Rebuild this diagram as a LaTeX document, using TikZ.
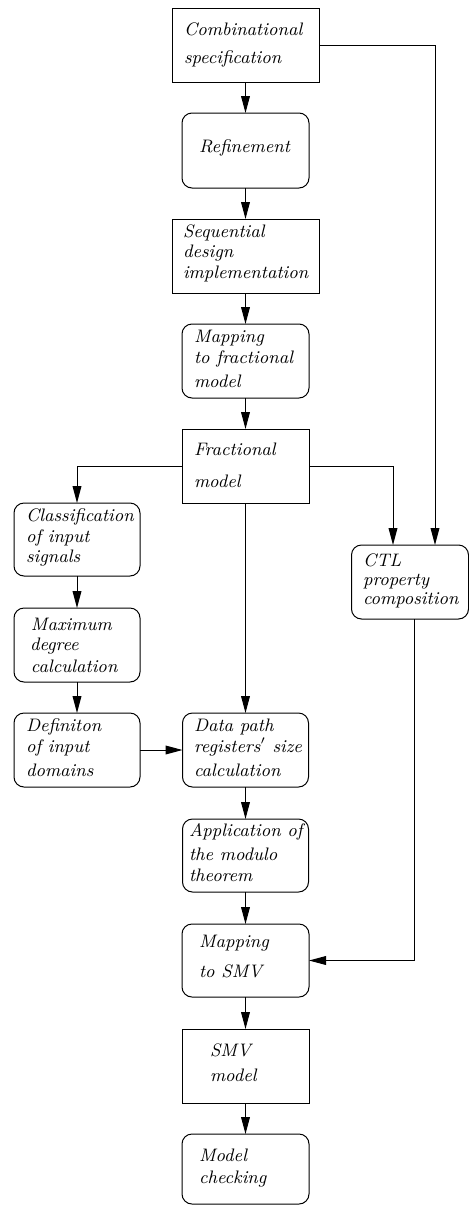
\documentclass[tikz,border=0pt]{standalone}
\usetikzlibrary{arrows.meta}
\begin{document}
\begin{tikzpicture}[x=0.5pt,y=-0.5pt,
  every node/.style={inner sep=0pt, outer sep=0pt},
  sqbox/.style={draw, line width=0.5pt},
  rdbox/.style={draw, line width=0.5pt, rounded corners=5pt},
  lbl/.style={anchor=base west, font=\fontsize{9.05}{11}\selectfont\itshape},
  link/.style={line width=0.5pt, -{Triangle[length=8.5pt,width=4.4pt]}},
  wire/.style={line width=0.5pt}]
\useasboundingbox (0,0) rectangle (469,1205);

% main column
\node[sqbox, minimum width=73.5pt, minimum height=37pt] (c1)   at (245.5,45)   {};
\node[rdbox, minimum width=63.5pt, minimum height=37.5pt] (ref) at (245.5,150.5) {};
\node[sqbox, minimum width=73.5pt, minimum height=37pt] (seq)  at (245.5,256)  {};
\node[rdbox, minimum width=63.5pt, minimum height=37pt] (mfr)  at (245.5,361)  {};
\node[sqbox, minimum width=63.5pt, minimum height=37pt] (frac) at (245.5,466)  {};
\node[rdbox, minimum width=63pt,   minimum height=37pt] (dat)  at (245.5,750)  {};
\node[rdbox, minimum width=63pt,   minimum height=36.5pt] (app) at (245.5,855.5) {};
\node[rdbox, minimum width=63.5pt, minimum height=36.5pt] (msmv) at (245.5,960.5) {};
\node[sqbox, minimum width=63.5pt, minimum height=37pt] (smv)  at (245.5,1066) {};
\node[rdbox, minimum width=63.5pt, minimum height=35pt] (mc)   at (245.5,1169) {};

% left column
\node[rdbox, minimum width=63pt, minimum height=36.5pt] (cls) at (77,539.5) {};
\node[rdbox, minimum width=63pt, minimum height=37pt]   (mxd) at (77,645)   {};
\node[rdbox, minimum width=63pt, minimum height=37pt]   (dfn) at (77,750)   {};

% right column
\node[rdbox, minimum width=58.5pt, minimum height=37pt] (ctl) at (410,582) {};

% texts
\node[lbl] (t1a) at (184,35)  {Combinational};
\node[lbl] (t1b) at (184,63)  {specification};
\node[lbl] (t2a) at (199,152) {Refinement};
\node[lbl] (t3a) at (183,237) {Sequential};
\node[lbl] (t3b) at (183,257) {design};
\node[lbl] (t3c) at (183,278) {implementation};
\node[lbl] (t4a) at (194,342) {Mapping};
\node[lbl] (t4b) at (194,363) {to fractional};
\node[lbl] (t4c) at (194,387) {model};
\node[lbl] (t5a) at (194,455) {Fractional};
\node[lbl] (t5b) at (194,487) {model};
\node[lbl] (t6a) at (26,521)  {Classification};
\node[lbl] (t6b) at (26,542)  {of\ input};
\node[lbl] (t6c) at (26,562)  {signals};
\node[lbl] (t7a) at (31,630)  {Maximum};
\node[lbl] (t7b) at (30,650)  {degree};
\node[lbl] (t7c) at (31,672)  {calculation};
\node[lbl] (t8a) at (26,731)  {Definiton};
\node[lbl] (t8b) at (26,752)  {of\ input};
\node[lbl] (t8c) at (26,776)  {domains};
\node[lbl] (t9a) at (194,731) {Data path};
\node[lbl] (t9b) at (194,752) {registers\smash{$'$} size};
\node[lbl] (t9c) at (194,776) {calculation};
\node[lbl] (taa) at (189,836) {Application of};
\node[lbl] (tab) at (189,860) {the modulo};
\node[lbl] (tac) at (189,881) {theorem};
\node[lbl] (tba) at (363,566) {CTL};
\node[lbl] (tbb) at (363,585) {property};
\node[lbl] (tbc) at (363,604) {composition};
\node[lbl] (tca) at (199,947) {Mapping};
\node[lbl] (tcb) at (199,977) {to SMV};
\node[lbl] (tda) at (210,1056) {SMV};
\node[lbl] (tdb) at (210,1081) {model};
\node[lbl] (tea) at (199,1161) {Model};
\node[lbl] (teb) at (199,1183) {checking};

% connectors
\draw[link] (c1) -- (ref);
\draw[link] (ref) -- (seq);
\draw[link] (seq) -- (mfr);
\draw[link] (mfr) -- (frac);
\draw[link] (frac) -- (dat);
\draw[link] (dat) -- (app);
\draw[link] (app) -- (msmv);
\draw[link] (msmv) -- (smv);
\draw[link] (smv) -- (mc);

\draw[link] (frac.west) -| (cls.north);
\draw[link] (cls) -- (mxd);
\draw[link] (mxd) -- (dfn);
\draw[link] (dfn) -- (dat);

\draw[link] (c1.east) -| ([xshift=12.5pt]ctl.north);
\draw[link] (frac.east) -| ([xshift=-8.5pt]ctl.north);
\draw[link] ([xshift=2pt]ctl.south) |- (msmv.east);
\end{tikzpicture}
\end{document}
